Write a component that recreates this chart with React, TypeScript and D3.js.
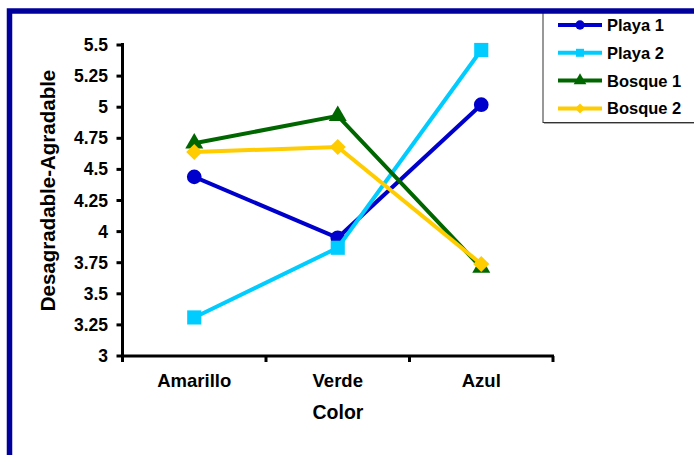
import React from "react";
import * as d3 from "d3";

const categories = ["Amarillo", "Verde", "Azul"];
const seriesNames = ["Playa 1", "Playa 2", "Bosque 1", "Bosque 2"];
const playa1 = [4.44, 3.95, 5.02];
const playa2 = [3.31, 3.87, 5.46];
const bosque1 = [4.71, 4.93, 3.71];
const bosque2 = [4.64, 4.68, 3.74];
const yTicks = [3, 3.25, 3.5, 3.75, 4, 4.25, 4.5, 4.75, 5, 5.25, 5.5];
const yTickLabels = ["3", "3.25", "3.5", "3.75", "4", "4.25", "4.5", "4.75", "5", "5.25", "5.5"];

const seriesValues = [playa1, playa2, bosque1, bosque2];
const colors = ["#0000CC", "#00CCFF", "#006600", "#FFCC00"];
const symbols = [d3.symbolCircle, d3.symbolSquare, d3.symbolTriangle, d3.symbolSquare];
const rotations = [0, 0, 0, 45];

const W = 694;
const H = 455;
const plot = { left: 122.5, right: 553, top: 45, bottom: 356 };
const FONT = "'Liberation Sans', Arial, sans-serif";

export default function App() {
  const x = d3.scaleBand().domain(categories).range([plot.left, plot.right]);
  const y = d3.scaleLinear().domain([3, 5.5]).range([plot.bottom, plot.top]);
  const cx = (c: string) => (x(c) as number) + x.bandwidth() / 2;
  const line = d3
    .line<number>()
    .x((_, i) => cx(categories[i]))
    .y((v) => y(v));

  const markerSizes = [170, 200, 140, 130];
  const legendSizes = [70, 64, 70, 50];
  const xBounds = [...categories.map((c) => x(c) as number), plot.right];

  return (
    <svg
      width={W}
      height={H}
      style={{ position: "fixed", left: 0, top: 0, background: "#fff" }}
    >
      <rect x={0} y={0} width={W} height={H} fill="#fff" />

      {/* axes */}
      <g stroke="#000" strokeWidth={3} fill="none">
        <line x1={plot.left} x2={plot.left} y1={y(5.5) - 2} y2={plot.bottom + 1} />
        <line x1={plot.left - 1.5} x2={plot.right + 1} y1={plot.bottom} y2={plot.bottom} />
        {yTicks.map((t) => (
          <line key={t} x1={plot.left - 6} x2={plot.left} y1={y(t)} y2={y(t)} />
        ))}
        {xBounds.map((b, i) => (
          <line key={i} x1={b} x2={b} y1={plot.bottom} y2={plot.bottom + 6} />
        ))}
      </g>

      {/* y tick labels */}
      <g fontFamily={FONT} fontWeight="bold" fontSize={17.5} textAnchor="end">
        {yTicks.map((t, i) => (
          <text key={t} x={108} y={y(t) + 6}>
            {yTickLabels[i]}
          </text>
        ))}
      </g>

      {/* x tick labels */}
      <g fontFamily={FONT} fontWeight="bold" fontSize={18.5} textAnchor="middle">
        {categories.map((c) => (
          <text key={c} x={cx(c)} y={387}>
            {c}
          </text>
        ))}
      </g>

      {/* axis titles */}
      <text
        x={338}
        y={419}
        fontFamily={FONT}
        fontWeight="bold"
        fontSize={19.5}
        textAnchor="middle"
      >
        Color
      </text>
      <text
        transform={`translate(55, 190.5) rotate(-90)`}
        fontFamily={FONT}
        fontWeight="bold"
        fontSize={20.5}
        textAnchor="middle"
      >
        Desagradable-Agradable
      </text>

      {/* series */}
      {seriesValues.map((vals, s) => (
        <g key={seriesNames[s]}>
          <path d={line(vals) as string} fill="none" stroke={colors[s]} strokeWidth={4} />
          {vals.map((v, i) => (
            <path
              key={i}
              d={d3.symbol(symbols[s], markerSizes[s])() as string}
              transform={`translate(${cx(categories[i])},${y(v)}) rotate(${rotations[s]})`}
              fill={colors[s]}
            />
          ))}
        </g>
      ))}

      {/* legend */}
      <rect x={543} y={10} width={200} height={112.5} fill="#fff" stroke="#333" strokeWidth={1} />
      <line x1={544} x2={720} y1={123.5} y2={123.5} stroke="#aaa" strokeWidth={1} />
      {seriesNames.map((name, s) => {
        const ly = 25 + s * 27.8;
        return (
          <g key={name}>
            <line x1={558} x2={602} y1={ly} y2={ly} stroke={colors[s]} strokeWidth={4} />
            <path
              d={d3.symbol(symbols[s], legendSizes[s])() as string}
              transform={`translate(580,${ly}) rotate(${rotations[s]})`}
              fill={colors[s]}
            />
            <text x={607} y={ly + 6} fontFamily={FONT} fontWeight="bold" fontSize={16.5}>
              {name}
            </text>
          </g>
        );
      })}

      {/* outer frame */}
      <rect x={9.5} y={11} width={800} height={600} fill="none" stroke="#00009C" strokeWidth={5.5} />
    </svg>
  );
}
